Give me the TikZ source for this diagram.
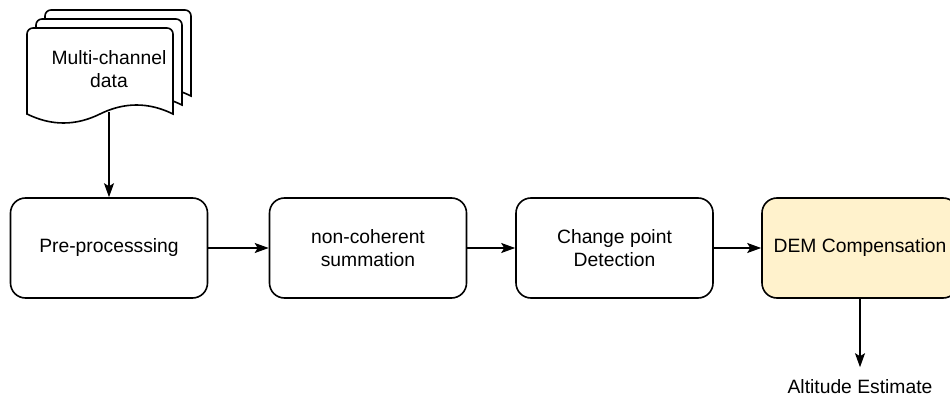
\documentclass[tikz,border=0pt]{standalone}
\usepackage{fontspec}
\setmainfont{Liberation Sans}
\usetikzlibrary{arrows.meta}
\definecolor{demfill}{HTML}{FFF2CC}

\begin{document}
\begin{tikzpicture}[x=1pt, y=-1pt, line width=1.6pt,
        font=\fontsize{19.3}{22.5}\selectfont,
        >={Stealth[length=14pt, width=10pt, inset=3pt]},
        main/.style = {draw, rounded corners=15pt, minimum width=197pt, minimum height=100pt, align=center, inner sep=0pt},
        page/.style = {draw, fill=white}]
        \useasboundingbox (0,0) rectangle (950,398);
        \clip (0,0) rectangle (950,398);

        % stacked pages, back to front
        \foreach \off in {18, 9, 0}
            \draw[page, shift={(\off,-\off)}] (27,114) [rounded corners=6pt] -- (27,28) -- (173,28) -- (173,40) [sharp corners] -- (173,114)
                .. controls (148.7,102) and (124.3,102) .. (100,114)
                .. controls (75.7,126) and (51.3,126) .. (27,114) -- cycle;

        \node[align=center] at (109,69) (data) {Multi-channel\\data};
        \coordinate (dbot) at (109,112);

        \node[main] at (109,248) (pre) {Pre-processsing};
        \node[main] at (368,248) (sum) {non-coherent\\summation};
        \node[main] at (614.5,248) (cpd) {Change point\\Detection};
        \node[main, fill=demfill, minimum width=196pt] at (860,248) (dem) {DEM Compensation};
        \node[anchor=base, inner xsep=0pt, inner ysep=11pt] at (860,393) (alt) {Altitude Estimate};

        \draw [->] (dbot) -- (pre);
        \draw [->] (pre) -- (sum);
        \draw [->] (sum) -- (cpd);
        \draw [->] (cpd) -- (dem);
        \draw [->] (dem) -- (alt);
\end{tikzpicture}
\end{document}
